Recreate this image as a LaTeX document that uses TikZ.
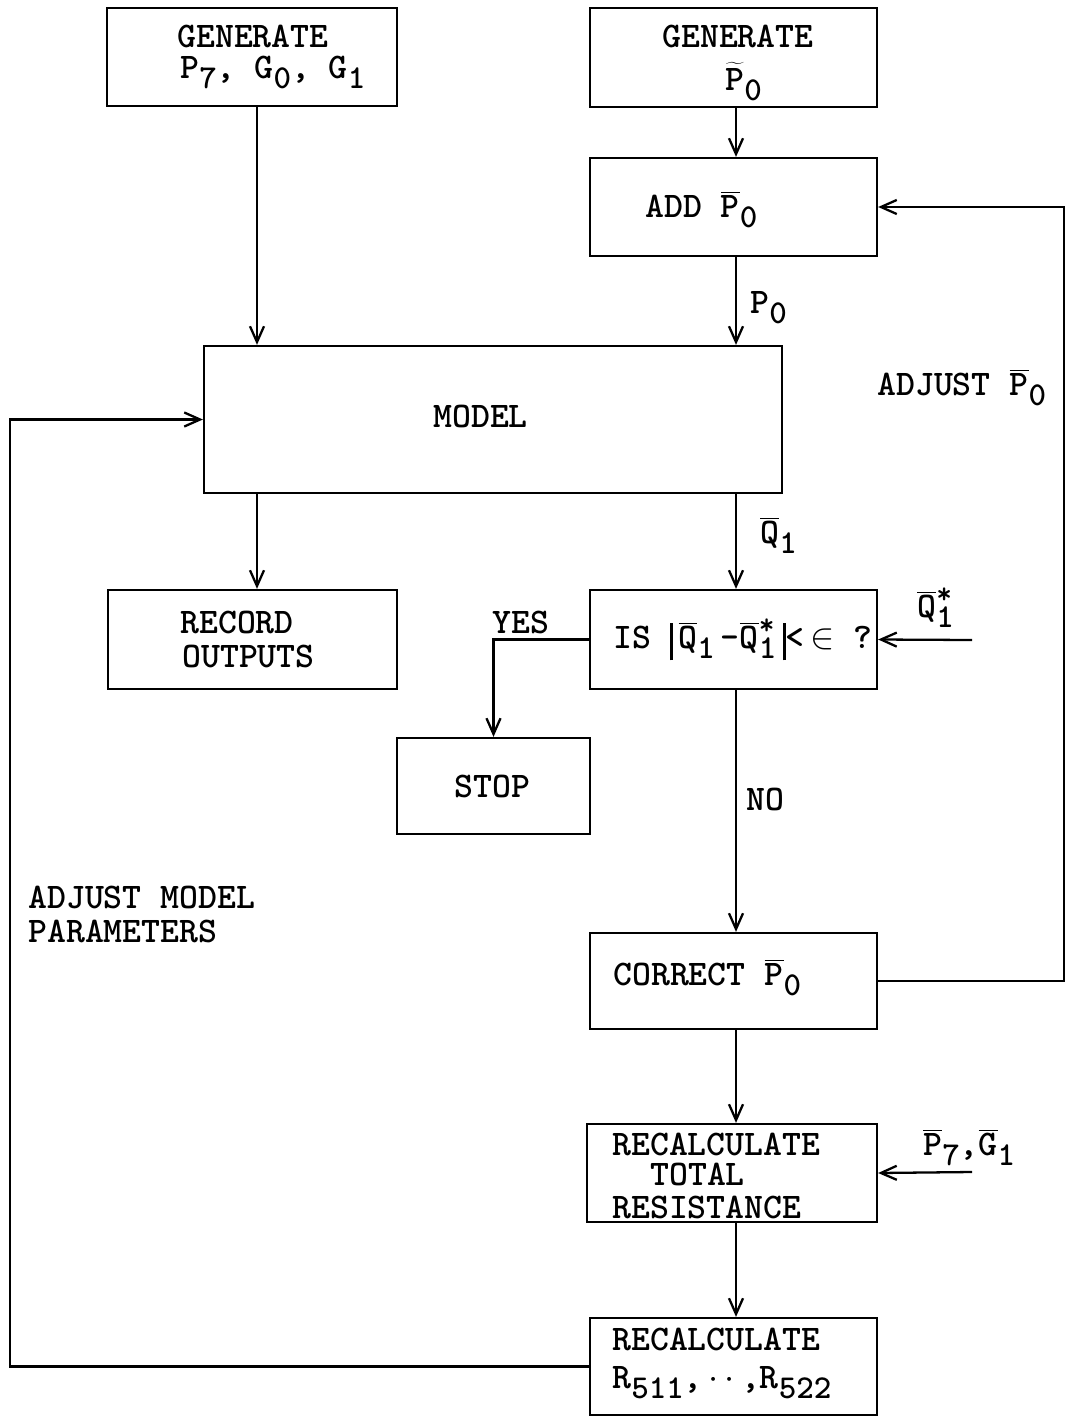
\documentclass[tikz,border=0pt]{standalone}
\usepackage{fontspec}
\usetikzlibrary{arrows.meta,fit}
\newcommand\ob[1]{$\overline{\mbox{#1}}$}
\newcommand\lo[1]{\raisebox{-6pt}{\fontsize{19}{19}\selectfont #1}}
\newcommand\vbar{\raisebox{-7pt}{\rule{1.4pt}{21pt}}}
\newcommand\stq{\ob{Q}$^{\mbox{\fontsize{17}{17}\selectfont*}}_{\mbox{\fontsize{19}{19}\selectfont1}}$}
\begin{document}
\begin{tikzpicture}[x=0.02cm,y=-0.02cm,
  box/.style={draw,line width=1.3pt,inner sep=0pt,rectangle},
  arr/.style={line width=1.3pt,-{Straight Barb[length=9pt,width=8pt]}},
  txt/.style={anchor=base west,inner sep=0pt,font=\ttfamily\bfseries\fontsize{20.5}{21}\selectfont}]
\fill[white] (0,0) rectangle (1066,1417);
\useasboundingbox (0,0) rectangle (1066,1417);

% boxes
\node[box,fit={(107,8)(397,106)}] (g1) {};
\node[box,fit={(590,8)(877,107)}] (g2) {};
\node[box,fit={(590,158)(877,256)}] (add) {};
\node[box,fit={(204,346)(782,493)}] (model) {};
\node[box,fit={(108,590)(397,689)}] (rec) {};
\node[box,fit={(590,590)(877,689)}] (is) {};
\node[box,fit={(397,738)(590,834)}] (stop) {};
\node[box,fit={(590,933)(877,1029)}] (corr) {};
\node[box,fit={(587,1124)(877,1222)}] (rtr) {};
\node[box,fit={(590,1318)(877,1415)}] (rr) {};

% helper coordinates
\coordinate (xl) at (257,0);
\coordinate (xr) at (736,0);
\coordinate (rx) at (1064,0);
\coordinate (lx) at (10,0);
\coordinate (qin) at (972,640);
\coordinate (pin) at (972,1172);

% texts
\node[txt] (t1a) at (177,47) {GENERATE};
\node[txt] (t1b) at (180,78) {P\lo{7}, G\lo{0}, G\lo{1}};
\node[txt] (t2a) at (662,47) {GENERATE};
\node[txt] (t2b) at (725,90) {\raisebox{0pt}[11pt]{$\widetilde{\mbox{P}}$}\lo{0}};
\node[txt] (tadd) at (645,217) {ADD \ob{P}\lo{0}};
\node[txt] (tp0) at (750,313) {P\lo{0}};
\node[txt] (tmodel) at (433,427) {MODEL};
\node[txt] (tadj) at (877,395) {ADJUST \ob{P}\lo{0}};
\node[txt] (tq1) at (760,543) {\ob{Q}\lo{1}};
\node[txt] (trec1) at (180,633) {RECORD};
\node[txt] (trec2) at (182,667) {OUTPUTS};
\node[txt] (tyes) at (492,633) {YES};
\node[txt] (tis) at (613,648) {IS \vbar\,\ob{Q}\lo{1}\,-\stq\,\vbar<\,$\in$ ?};
\node[txt] (tqs) at (917,617) {\stq};
\node[txt] (tstop) at (454,797) {STOP};
\node[txt] (tno) at (746,810) {NO};
\node[txt] (tam1) at (28,908) {ADJUST MODEL};
\node[txt] (tam2) at (28,942) {PARAMETERS};
\node[txt] (tcorr) at (613,985) {CORRECT \ob{P}\lo{0}};
\node[txt] (tr1) at (612,1155) {RECALCULATE};
\node[txt] (tr2) at (650,1185) {TOTAL};
\node[txt] (tr3) at (612,1218) {RESISTANCE};
\node[txt] (tpg) at (923,1155) {\ob{P}\lo{7},\ob{G}\lo{1}};
\node[txt] (tr4) at (612,1350) {RECALCULATE};
\node[txt] (tr5) at (612,1388) {R\lo{511},\,$\cdot$\,$\cdot$\,,R\lo{522}};

% connectors
\draw[arr] (g1.south -| xl) -- (model.north -| xl);
\draw[arr] (g2.south -| xr) -- (add.north -| xr);
\draw[arr] (add.south -| xr) -- (model.north -| xr);
\draw[arr] (model.south -| xl) -- (rec.north -| xl);
\draw[arr] (model.south -| xr) -- (is.north -| xr);
\draw[arr] (is.west) -| (stop.north);
\draw[arr] (is.south -| xr) -- (corr.north -| xr);
\draw[arr] (corr.east) -- (corr.east -| rx) |- (add.east);
\draw[arr] (qin) -- (is.east);
\draw[arr] (corr.south -| xr) -- (rtr.north -| xr);
\draw[arr] (pin) -- (rtr.east);
\draw[arr] (rtr.south -| xr) -- (rr.north -| xr);
\draw[arr] (rr.west) -- (rr.west -| lx) |- (model.west);
\end{tikzpicture}
\end{document}
